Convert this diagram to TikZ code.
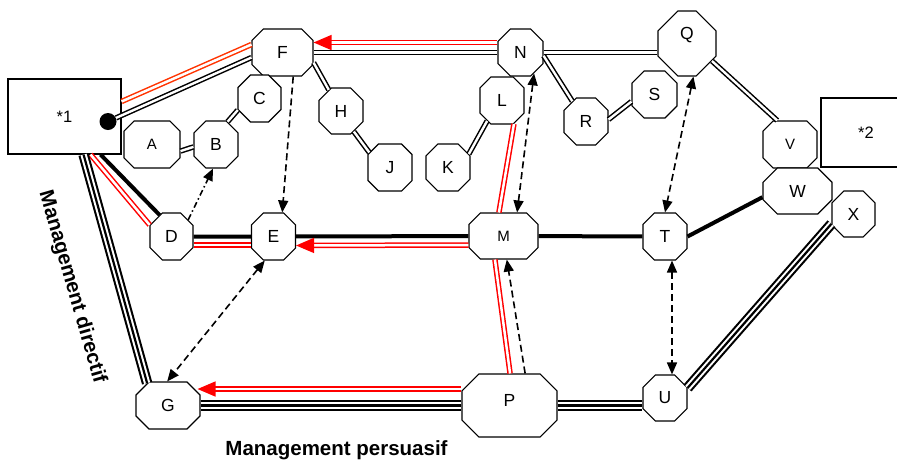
\documentclass[tikz,border=0pt]{standalone}
\usepackage{fontspec}
\setmainfont{Liberation Sans}
\usetikzlibrary{arrows.meta}
\usetikzlibrary{shapes.misc}

\definecolor{orangered}{RGB}{255,51,0}

\tikzset{
  oct/.style={chamfered rectangle, chamfered rectangle xsep=13pt, chamfered rectangle ysep=13pt, draw, line width=1.1pt, fill=white, inner sep=0pt, minimum width=44pt, minimum height=47pt, font=\fontsize{17.5}{20}\selectfont},
  small/.style={font=\fontsize{15}{18}\selectfont},
  box/.style={rectangle, draw, line width=1.1pt, font=\fontsize{16.5}{19}\selectfont},
  dot/.style={circle, fill=black, inner sep=0pt, minimum size=17pt},
  dbl/.style={draw=black, double=white, line width=1.5pt, double distance=2.4pt},
  reddbl/.style={draw=red, double=white, line width=1.5pt, double distance=2.5pt},
  triple/.style={draw=black, line width=2.2pt, preaction={draw=black, line width=10.5pt}, preaction={draw=white, line width=6.3pt}},
  heavy/.style={draw=black, line width=4pt},
  redtip/.style={-{Triangle[length=18pt,width=15pt]}},
  link/.style={line width=1.6pt, dash pattern=on 7pt off 4pt, -{Triangle[length=12pt,width=10pt]}},
  bilink/.style={link, {Triangle[length=12pt,width=10pt]}-{Triangle[length=12pt,width=10pt]}},
  title/.style={font=\fontsize{20.5}{24}\selectfont\bfseries}
}

\begin{document}
\begin{tikzpicture}[x=1pt,y=-1pt]
\path[use as bounding box, clip] (0,0) rectangle (897,459);

\node[box, minimum width=113pt, minimum height=75pt] (one) at (64.5,116.5) {*1};
\node[dot] (dot1) at (108,121.5) {};
\node[box, minimum width=90pt, minimum height=69pt] (two) at (866,132.5) {*2};

\node[oct, minimum width=61pt] (F) at (282.5,52.5) {F};
\node[oct, minimum width=43pt] (C) at (259.5,98.5) {C};
\node[oct, small, minimum width=56pt] (A) at (152,144.5) {A};
\node[oct] (B) at (216,144.5) {B};
\node[oct, minimum width=43pt] (D) at (171.5,236.5) {D};
\node[oct] (E) at (273.5,236.5) {E};
\node[oct, minimum height=46pt] (H) at (341,111) {H};
\node[oct] (J) at (390,167.5) {J};
\node[oct] (K) at (448,167.5) {K};
\node[oct] (L) at (502,100.5) {L};
\node[oct, minimum width=45pt] (N) at (520.5,52.5) {N};
\node[oct, minimum width=58pt, minimum height=65pt, chamfered rectangle ysep=16pt, text depth=20pt] (Q) at (687,43.5) {Q};
\node[oct] (R) at (586,121.5) {R};
\node[oct, minimum width=45pt] (S) at (654.5,94.5) {S};
\node[oct, small, minimum width=54pt] (V) at (790,144.5) {V};
\node[oct, minimum width=69pt, minimum height=46pt] (W) at (797.5,191) {W};
\node[oct, minimum width=43pt, minimum height=46pt] (X) at (853.5,214) {X};
\node[oct, small, minimum width=69pt, minimum height=46pt, chamfered rectangle xsep=11pt] (M) at (503.5,236) {M};
\node[oct] (T) at (665,236.5) {T};
\node[oct, minimum height=46pt] (U) at (665,398) {U};
\node[oct, minimum width=64pt] (G) at (168,405.5) {G};
\node[oct, minimum width=95pt, minimum height=63pt, chamfered rectangle xsep=22pt, chamfered rectangle ysep=19pt, text depth=10pt] (P) at (509.5,405.5) {P};

% from *1
\draw[dbl] (dot1) -- ([yshift=-5pt]F.west);
\draw[reddbl, draw=orangered] ([yshift=15pt]one.east) -- ([yshift=8pt]F.west);
\draw[heavy] ([xshift=-21pt]one.south east) -- (D.119);
\draw[reddbl] ([xshift=-31pt]one.south east) -- (D.152);
\draw[triple] ([xshift=-38pt]one.south east) -- (G.133); % directif

% top row
\draw[reddbl, redtip] ([yshift=10pt]N.west) -- ([yshift=10pt]F.east);
\draw[dbl] (F.east) -- (N.west);
\draw[dbl] (F.-18) -- (H.120);
\draw[dbl] (H.-58) -- (J.144);
\draw[dbl] (K.33) -- (L.-126);
\draw[reddbl] (L.-63) -- (M.101);
\draw[dbl] (N.east) -- (N.east -| Q.west);
\draw[dbl] (N.-8) -- (R.124);
\draw[dbl] (R.5) -- (S.-163);
\draw[dbl] (Q.-35) -- (V.118);
\draw[dbl] (A.-13) -- (B.186);
\draw[dbl] (B.63) -- (C.208);

% middle row
\draw[heavy] (D) -- (E);
\draw[reddbl] ([yshift=-8.5pt]D.east) -- ([yshift=-8.5pt]E.west);
\draw[heavy] (E) -- (M);
\draw[reddbl, redtip] ([yshift=-9pt]M.west) -- ([yshift=-9pt]E.east);
\draw[heavy] (M) -- (T);
\draw[heavy] (T.east) -- (W.190);

% bottom row
\draw[triple] (G.east) -- (G.east -| P.west); % persuasif
\draw[reddbl, redtip] ([yshift=16.5pt]P.west) -- ([xshift=-3pt,yshift=16.5pt]G.east);
\draw[triple] (P.east) -- (P.east -| U.west);
\draw[triple] (U.24) -- (X.204);
\draw[reddbl] (P.89) -- (M.-110);

% dashed links
\draw[bilink] (N.-57) -- (M.60);
\draw[bilink] (Q.-79) -- (T.north);
\draw[bilink] (E.-110) -- (G.92);
\draw[link] (F.-66) -- (E.70);
\draw[link, dash pattern=on 6pt off 3pt on 1.5pt off 3pt] (D.45) -- (B.-97);
\draw[link] (P.64) -- (M.-82);
\draw[bilink] ([xshift=7pt]T.south) -- ([xshift=7pt]U.north);

\node[title, rotate=-74] (dir) at (72,287) {Management directif};
\node[title, anchor=base] (pers) at (336.5,455) {Management persuasif};
\end{tikzpicture}
\end{document}
